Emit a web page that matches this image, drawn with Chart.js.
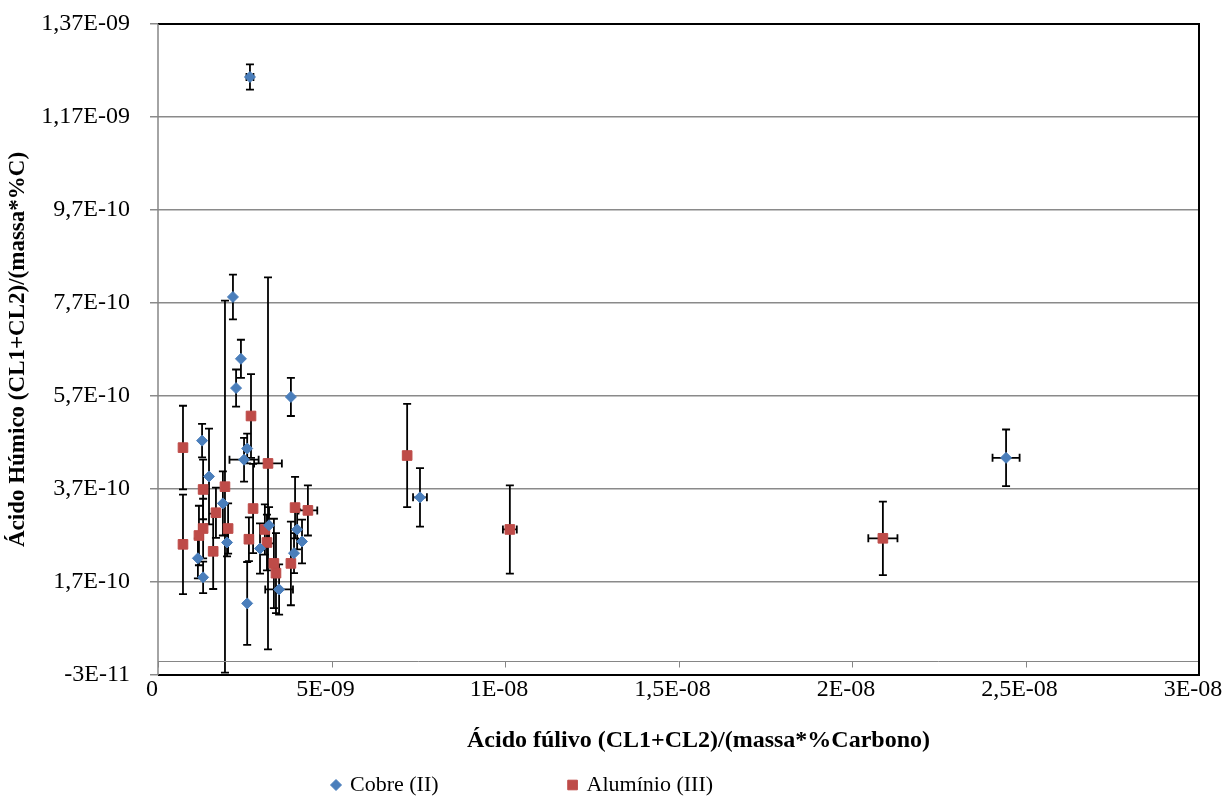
<!DOCTYPE html>
<html>
<head>
<meta charset="utf-8">
<script src="https://cdn.jsdelivr.net/npm/chart.js@4.4.0/dist/chart.umd.min.js"></script>
<style>
  html, body { margin: 0; padding: 0; background: #fff; }
  #wrap { width: 1227px; height: 798px; }
</style>
</head>
<body>
<div id="wrap"><canvas id="chart"></canvas></div>
<script>
// Cobre (II)
const cobreX = [2.65e-9, 2.16e-9, 2.39e-9, 2.25e-9, 3.83e-9, 1.27e-9, 2.57e-9, 2.48e-9, 7.55e-9, 2.444e-8, 1.47e-9,
                1.87e-9, 1.99e-9, 1.15e-9, 1.30e-9, 3.20e-9, 2.94e-9, 4.01e-9, 4.15e-9, 3.92e-9, 3.49e-9, 2.57e-9];
const cobreY = [1.256e-9, 7.83e-10, 6.50e-10, 5.87e-10, 5.68e-10, 4.74e-10, 4.57e-10, 4.33e-10, 3.52e-10, 4.37e-10, 3.97e-10,
                3.39e-10, 2.55e-10, 2.21e-10, 1.80e-10, 2.92e-10, 2.42e-10, 2.83e-10, 2.57e-10, 2.32e-10, 1.54e-10, 1.24e-10];
const cobreXErr = [1e-10, 0, 0, 0, 0, 0, 0, 4.2e-10, 2.0e-10, 3.9e-10, 0,
                   0, 0, 0, 0, 0, 0, 0, 0, 0, 4.0e-10, 0];
const cobreYErr = [2.7e-11, 4.8e-11, 4.1e-11, 4.0e-11, 4.1e-11, 3.6e-11, 3.2e-11, 4.7e-11, 6.3e-11, 6.1e-11, 1.03e-10,
                   6.9e-11, 3.0e-11, 4.3e-11, 3.4e-11, 3.9e-11, 5.4e-11, 4.3e-11, 4.7e-11, 4.3e-11, 5.4e-11, 8.9e-11];

// Alumínio (III)
const aluminioX = [0.72e-9, 0.72e-9, 2.68e-9, 3.17e-9, 1.93e-9, 1.30e-9, 1.67e-9, 2.74e-9, 3.95e-9, 4.32e-9, 1.30e-9, 2.02e-9,
                   1.18e-9, 1.59e-9, 2.62e-9, 3.08e-9, 3.14e-9, 3.34e-9, 3.40e-9, 3.83e-9, 7.18e-9, 1.014e-8, 2.089e-8];
const aluminioY = [4.59e-10, 2.51e-10, 5.27e-10, 4.25e-10, 3.75e-10, 3.69e-10, 3.19e-10, 3.28e-10, 3.30e-10, 3.24e-10, 2.85e-10, 2.85e-10,
                   2.70e-10, 2.36e-10, 2.62e-10, 2.83e-10, 2.55e-10, 2.10e-10, 1.89e-10, 2.10e-10, 4.42e-10, 2.83e-10, 2.64e-10];
const aluminioXErr = [0, 0, 0, 4.0e-10, 0, 0, 0, 0, 0, 2.7e-10, 0, 0,
                      0, 0, 0, 0, 0, 0, 0, 0, 0, 2.0e-10, 4.2e-10];
const aluminioYErr = [9.0e-11, 1.07e-10, 9.0e-11, 4.0e-10, 4.0e-10, 6.4e-11, 5.4e-11, 9.6e-11, 6.6e-11, 5.4e-11, 6.4e-11, 5.4e-11,
                      6.4e-11, 8.1e-11, 4.7e-11, 5.4e-11, 6.0e-11, 9.6e-11, 8.6e-11, 9.0e-11, 1.11e-10, 9.5e-11, 7.9e-11];

// eixos
const xTickValues = [0, 5e-9, 1e-8, 1.5e-8, 2e-8, 2.5e-8, 3e-8];
const xTickLabels = ['0', '5E-09', '1E-08', '1,5E-08', '2E-08', '2,5E-08', '3E-08'];
const yTickValues = [-3e-11, 1.7e-10, 3.7e-10, 5.7e-10, 7.7e-10, 9.7e-10, 1.17e-9, 1.37e-9];
const yTickLabels = ['-3E-11', '1,7E-10', '3,7E-10', '5,7E-10', '7,7E-10', '9,7E-10', '1,17E-09', '1,37E-09'];
const xTitle = 'Ácido fúlivo (CL1+CL2)/(massa*%Carbono)';

const FONT = 'Liberation Serif, Times New Roman, serif';

function toPoints(xs, ys, xe, ye) {
    return xs.map((x, i) => ({ x: x, y: ys[i], xErr: xe[i], yErr: ye[i] }));
}

// barras de erro desenhadas com as escalas do gráfico
const errorBars = {
    id: 'errorBars',
    beforeDatasetsDraw(chart) {
        const { ctx, scales: { x, y } } = chart;
        const cap = 4;
        ctx.save();
        ctx.strokeStyle = '#000';
        ctx.lineWidth = 1.8;
        chart.data.datasets.forEach((ds, i) => {
            if (!chart.isDatasetVisible(i)) return;
            ds.data.forEach(p => {
                const px = x.getPixelForValue(p.x);
                const py = y.getPixelForValue(p.y);
                ctx.beginPath();
                if (p.yErr) {
                    const t = y.getPixelForValue(p.y + p.yErr);
                    const b = y.getPixelForValue(p.y - p.yErr);
                    ctx.moveTo(px, t); ctx.lineTo(px, b);
                    ctx.moveTo(px - cap, t); ctx.lineTo(px + cap, t);
                    ctx.moveTo(px - cap, b); ctx.lineTo(px + cap, b);
                }
                if (p.xErr) {
                    const l = x.getPixelForValue(p.x - p.xErr);
                    const r = x.getPixelForValue(p.x + p.xErr);
                    ctx.moveTo(l, py); ctx.lineTo(r, py);
                    ctx.moveTo(l, py - cap); ctx.lineTo(l, py + cap);
                    ctx.moveTo(r, py - cap); ctx.lineTo(r, py + cap);
                }
                ctx.stroke();
            });
        });
        ctx.restore();
    }
};

// moldura, eixo horizontal em y = 0, título do eixo x e legenda
const frameAndLegend = {
    id: 'frameAndLegend',
    beforeDatasetsDraw(chart) {
        const { ctx, chartArea: a, scales: { x, y } } = chart;
        ctx.save();
        // eixo x cruza em 0
        const y0 = Math.round(y.getPixelForValue(0)) + 0.5;
        ctx.strokeStyle = '#868686';
        ctx.lineWidth = 1;
        ctx.beginPath();
        ctx.moveTo(a.left, y0); ctx.lineTo(a.right, y0);
        x.ticks.forEach(t => {
            const tx = Math.round(x.getPixelForValue(t.value)) + 0.5;
            ctx.moveTo(tx, y0); ctx.lineTo(tx, y0 + 6);
        });
        ctx.stroke();
        // moldura
        ctx.strokeStyle = '#000';
        ctx.lineWidth = 2;
        ctx.beginPath();
        ctx.moveTo(a.left, a.top); ctx.lineTo(a.right, a.top);
        ctx.lineTo(a.right, a.bottom); ctx.lineTo(a.left, a.bottom);
        ctx.stroke();
        ctx.strokeStyle = '#868686';
        ctx.lineWidth = 1.5;
        ctx.beginPath();
        ctx.moveTo(a.left, a.top); ctx.lineTo(a.left, a.bottom);
        ctx.stroke();
        ctx.restore();
    },
    afterDraw(chart, args, opts) {
        const { ctx, chartArea: a } = chart;
        ctx.save();
        // título do eixo x (um pouco à direita do centro, como no Excel)
        ctx.font = 'bold 24px ' + FONT;
        ctx.fillStyle = '#000';
        ctx.textAlign = 'center';
        ctx.textBaseline = 'middle';
        ctx.fillText(xTitle, (a.left + a.right) / 2 + opts.titleShift, opts.titleY);

        ctx.font = '22px ' + FONT;
        ctx.textAlign = 'left';
        let lx = opts.x;
        chart.data.datasets.forEach(ds => {
            ctx.fillStyle = ds.backgroundColor;
            ctx.strokeStyle = ds.borderColor;
            Chart.helpers.drawPoint(ctx, { pointStyle: ds.pointStyle, radius: ds.pointRadius, rotation: 0, borderWidth: 1 }, lx, opts.y);
            ctx.fillStyle = '#000';
            ctx.fillText(ds.label, lx + 14, opts.y);
            lx += 14 + ctx.measureText(ds.label).width + opts.gap;
        });
        ctx.restore();
    }
};

new Chart(document.getElementById('chart'), {
    type: 'scatter',
    data: {
        datasets: [{
            label: 'Cobre (II)',
            data: toPoints(cobreX, cobreY, cobreXErr, cobreYErr),
            pointStyle: 'rectRot',
            pointRadius: 5.5,
            backgroundColor: '#4A7EBB',
            borderColor: '#4A7EBB',
            borderWidth: 1
        }, {
            label: 'Alumínio (III)',
            data: toPoints(aluminioX, aluminioY, aluminioXErr, aluminioYErr),
            pointStyle: 'rect',
            pointRadius: 6.8,
            backgroundColor: '#BE4B48',
            borderColor: '#BE4B48',
            borderWidth: 1
        }]
    },
    options: {
        responsive: true,
        maintainAspectRatio: false,
        animation: false,
        layout: { padding: { top: 24, right: 28, bottom: 40, left: 0 } },
        plugins: {
            legend: { display: false },
            tooltip: { enabled: false },
            frameAndLegend: { x: 336, y: 785, gap: 134, titleY: 741, titleShift: 20 }
        },
        scales: {
            x: {
                type: 'linear',
                min: 0,
                max: 3e-8,
                afterBuildTicks: s => { s.ticks = xTickValues.map(v => ({ value: v })); },
                afterFit: s => { s.height = 83; s.paddingLeft = 0; s.paddingRight = 0; },
                grid: { display: false, drawTicks: false },
                border: { display: false },
                ticks: {
                    padding: 0,
                    labelOffset: -6,
                    color: '#000',
                    font: { family: FONT, size: 24 },
                    maxRotation: 0,
                    callback: (v, i) => xTickLabels[i]
                },
                title: { display: false }
            },
            y: {
                type: 'linear',
                min: -3e-11,
                max: 1.37e-9,
                afterBuildTicks: s => { s.ticks = yTickValues.map(v => ({ value: v })); },
                afterFit: s => { s.width = 158; s.paddingTop = 0; s.paddingBottom = 0; },
                grid: { color: '#8a8a8a', lineWidth: 1.5, tickLength: 8 },
                border: { display: false },
                ticks: {
                    padding: 20,
                    color: '#000',
                    font: { family: FONT, size: 24 },
                    callback: (v, i) => yTickLabels[i]
                },
                title: {
                    display: true,
                    text: 'Ácido Húmico (CL1+CL2)/(massa*%C)',
                    color: '#000',
                    font: { family: FONT, size: 23, weight: 'bold' },
                    padding: { top: 4, bottom: 4 }
                }
            }
        }
    },
    plugins: [errorBars, frameAndLegend]
});
</script>
</body>
</html>
